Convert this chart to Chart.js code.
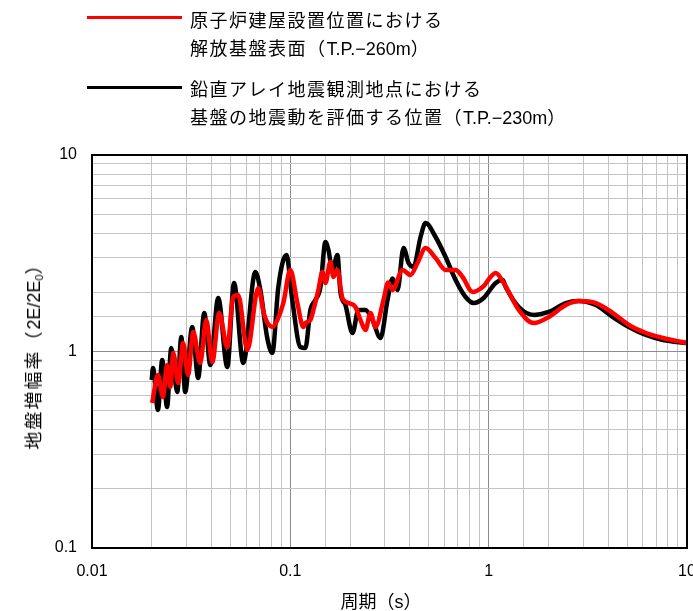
<!DOCTYPE html>
<html>
<head>
<meta charset="utf-8">
<script src="https://cdn.jsdelivr.net/npm/chart.js@4.4.1/dist/chart.umd.min.js"></script>
<style>
  body { margin: 0; background: #fff; }
  #wrap { position: relative; width: 693px; height: 611px; font-family: "Noto Sans CJK JP", sans-serif; color: #000; }
  #chart { position: absolute; left: 0; top: 0; }
  .lg-line { position: absolute; left: 87px; width: 95px; height: 3px; }
  .lg-text { position: absolute; left: 190px; font-size: 18px; letter-spacing: 1.5px; line-height: 28px; white-space: nowrap; }
  .lat { font-family: "Liberation Sans", sans-serif; letter-spacing: 0; }
  #ytitle { position: absolute; left: 32px; top: 352px; transform: translate(-50%, -50%) rotate(-90deg); font-size: 18px; letter-spacing: 2px; white-space: nowrap; }
  #ytitle sub { font-size: 11px; vertical-align: -3px; }
  #xtitle { position: absolute; left: 381px; top: 600px; transform: translate(-50%, -50%); font-size: 18px; white-space: nowrap; }
</style>
</head>
<body>
<div id="wrap">
  <canvas id="chart" width="693" height="611"></canvas>
  <div class="lg-line" style="top:16px;background:#ff0000"></div>
  <div class="lg-text" style="top:5px">原子炉建屋設置位置における<br>解放基盤表面（<span class="lat">T.P.−260m</span>）</div>
  <div class="lg-line" style="top:86px;background:#000"></div>
  <div class="lg-text" style="top:74px">鉛直アレイ地震観測地点における<br>基盤の地震動を評価する位置（<span class="lat">T.P.−230m</span>）</div>
  <div id="ytitle">地盤増幅率（<span class="lat">2E/2E<sub>0</sub></span>）</div>
  <div id="xtitle">周期（<span class="lat">s</span>）</div>
</div>
<script>
// 解放基盤表面 (T.P.-260m) - red
var periodRed = [0.0201,0.0215,0.0228,0.0239,0.0248,0.0257,0.0272,0.0288,0.0305,0.0324,0.0351,0.0377,0.0404,0.0438,0.0481,0.0515,
  0.0546,0.0607,0.0689,0.0739,0.0811,0.0860,0.0922,0.1000,0.1085,0.1163,0.1191,0.1262,0.1307,0.1385,0.1451,0.1503,0.1592,
  0.1649,0.1728,0.1830,0.1963,0.2130,0.2257,0.2392,0.2535,0.2687,0.2949,0.3110,0.3275,0.3679,0.4037,0.4378,0.4806,0.5400,
  0.6066,0.6813,0.7389,0.8305,0.9326,1.085,1.191,1.418,1.688,2.009,2.448,2.848,3.471,4.229,5.095,6.208,7.566,10.0];
var ampRed = [0.547,0.759,0.587,0.854,0.660,0.983,0.691,1.105,0.759,1.257,0.874,1.447,0.884,1.570,1.05,1.894,
  1.939,1.018,2.105,1.534,1.332,1.447,1.765,2.598,1.765,1.332,1.396,1.447,1.626,2.056,2.539,2.232,2.854,
  2.394,2.598,1.872,1.765,1.684,1.447,1.286,1.570,1.332,1.828,2.245,2.056,2.598,2.451,2.821,3.363,2.991,
  2.598,2.598,2.394,2.008,2.129,2.509,2.232,1.626,1.396,1.498,1.724,1.807,1.765,1.570,1.364,1.242,1.171,1.105];

// 鉛直アレイ 基盤 (T.P.-230m) - black
var periodBlack = [0.0200,0.0203,0.0215,0.0226,0.0239,0.0251,0.0269,0.0282,0.0295,0.0320,0.0343,0.0368,0.0395,0.0433,0.0481,0.0520,
  0.0579,0.0666,0.0706,0.0765,0.0811,0.0870,0.0955,0.1023,0.1123,0.1191,0.1262,0.1338,0.1418,0.1503,0.1556,0.1630,0.1728,
  0.1788,0.1896,0.2057,0.2205,0.2392,0.2595,0.2848,0.3090,0.3275,0.3471,0.3722,0.3945,0.4180,0.4535,0.4806,0.5400,0.6066,
  0.6813,0.7652,0.8400,0.9434,1.085,1.177,1.219,1.418,1.688,2.009,2.448,2.848,3.471,4.229,5.095,6.208,7.566,10.0];
var ampBlack = [0.716,0.824,0.504,0.905,0.522,1.042,0.622,1.185,0.622,1.332,0.733,1.570,0.854,1.872,0.834,2.232,
  0.874,2.539,2.056,1.171,0.983,2.129,3.098,1.828,1.054,1.042,1.626,1.828,2.129,3.608,3.285,2.598,3.098,
  2.008,1.724,1.242,1.626,1.626,1.447,1.171,1.828,2.35,2.056,3.363,2.821,2.692,3.826,4.508,3.826,3.026,
  2.311,1.894,1.765,1.872,2.232,2.311,2.129,1.684,1.534,1.589,1.765,1.807,1.724,1.498,1.332,1.213,1.144,1.105];

var xTicks = [0.01, 0.1, 1, 10];
var yTicks = [0.1, 1, 10];

function isDecade(v) {
  var l = Math.log10(v);
  return Math.abs(l - Math.round(l)) < 1e-6;
}
function pts(xs, ys) {
  return xs.map(function (x, i) { return { x: x, y: ys[i] }; });
}

// frame on top/right sides
var framePlugin = {
  id: 'frame',
  afterDraw: function (chart) {
    var a = chart.chartArea, c = chart.ctx;
    c.save();
    c.strokeStyle = '#000';
    c.lineWidth = 2;
    c.strokeRect(a.left, a.top, a.right - a.left, a.bottom - a.top);
    c.restore();
  }
};

new Chart(document.getElementById('chart'), {
  type: 'line',
  data: {
    datasets: [
      { label: '解放基盤表面', data: pts(periodRed, ampRed), borderColor: '#ff0000', borderWidth: 4.5,
        pointRadius: 0, cubicInterpolationMode: 'monotone', fill: false },
      { label: '鉛直アレイ', data: pts(periodBlack, ampBlack), borderColor: '#000000', borderWidth: 4.5,
        pointRadius: 0, cubicInterpolationMode: 'monotone', fill: false }
    ]
  },
  options: {
    responsive: false,
    animation: false,
    layout: { padding: { top: 155, right: 6, left: 0, bottom: 0 } },
    plugins: { legend: { display: false }, tooltip: { enabled: false } },
    scales: {
      x: {
        type: 'logarithmic', min: 0.01, max: 10,
        afterFit: function (s) { s.height = 63; s.paddingLeft = 0; s.paddingRight = 0; },
        border: { color: '#000', width: 2 },
        grid: { drawTicks: false, lineWidth: 1,
          color: function (ctx) { return isDecade(ctx.tick.value) ? '#8c8c8c' : '#c4c4c4'; } },
        ticks: { autoSkip: false, maxRotation: 0, padding: 14, color: '#000',
          font: { family: 'Liberation Sans', size: 16 },
          callback: function (v) { return xTicks.indexOf(v) >= 0 || isDecade(v) ? String(+v.toPrecision(3)) : ''; } }
      },
      y: {
        type: 'logarithmic', min: 0.1, max: 10,
        afterFit: function (s) { s.width = 92; s.paddingTop = 0; s.paddingBottom = 0; },
        border: { color: '#000', width: 2 },
        grid: { drawTicks: false, lineWidth: 1,
          color: function (ctx) { return isDecade(ctx.tick.value) ? '#8c8c8c' : '#c4c4c4'; } },
        ticks: { autoSkip: false, padding: 15, color: '#000',
          font: { family: 'Liberation Sans', size: 16 },
          callback: function (v) { return yTicks.indexOf(v) >= 0 || isDecade(v) ? String(+v.toPrecision(3)) : ''; } }
      }
    }
  },
  plugins: [framePlugin]
});
</script>
</body>
</html>
